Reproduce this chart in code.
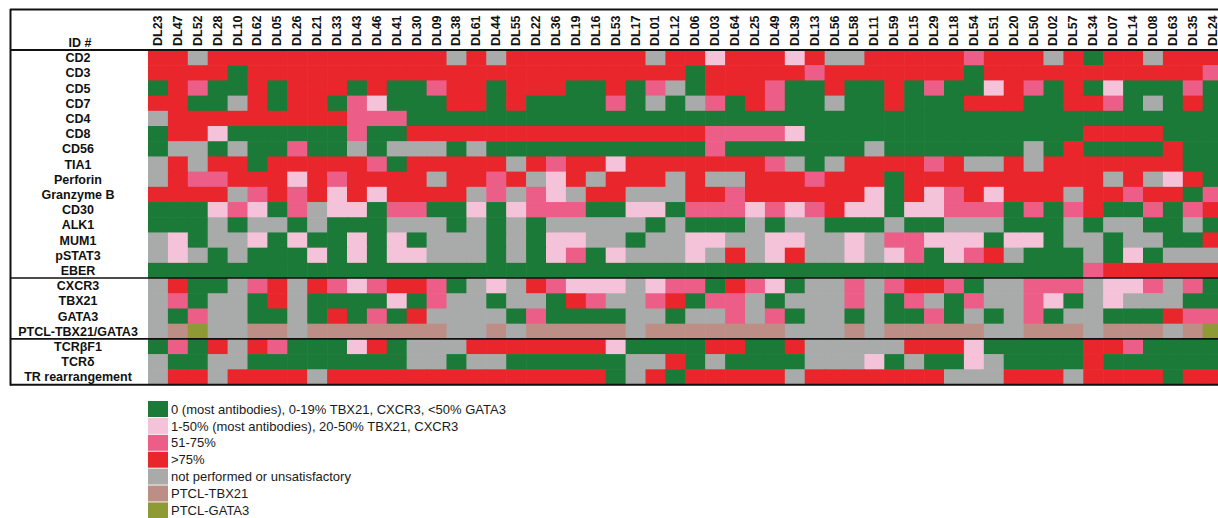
<!DOCTYPE html>
<html>
<head>
<meta charset="utf-8">
<script src="https://cdn.jsdelivr.net/npm/d3@7"></script>
<style>
  body { margin: 0; background: #fff; }
  svg { display: block; font-family: "Liberation Sans", Arial, sans-serif; }
</style>
</head>
<body>
<div id="chart"></div>
<script>
// -------- data ---------- //

var ids = [
  "DL23", "DL47", "DL52", "DL28", "DL10", "DL62", "DL05", "DL26", "DL21",
  "DL33", "DL43", "DL46", "DL41", "DL30", "DL09", "DL38", "DL61", "DL44",
  "DL55", "DL22", "DL36", "DL19", "DL16", "DL53", "DL17", "DL01", "DL12",
  "DL06", "DL03", "DL64", "DL25", "DL49", "DL39", "DL13", "DL56", "DL58",
  "DL11", "DL59", "DL15", "DL29", "DL18", "DL54", "DL51", "DL20", "DL50",
  "DL02", "DL57", "DL34", "DL07", "DL14", "DL08", "DL63", "DL35", "DL24",
];

var markers = [
  "CD2", "CD3", "CD5", "CD7", "CD4", "CD8", "CD56", "TIA1", "Perforin",
  "Granzyme B", "CD30", "ALK1", "MUM1", "pSTAT3", "EBER",
  "CXCR3", "TBX21", "GATA3", "PTCL-TBX21/GATA3",
  "TCRβF1", "TCRδ", "TR rearrangement",
];

// one string per marker, one letter per case (same order as ids)
// G = 0, L = 1-50%, P = 51-75%, R = >75%, N = not performed,
// T = PTCL-TBX21, A = PTCL-GATA3
var phenotype = [
  "RRNRRRRRRRRRR RRNRNRRRRRRRNR RLRRRLRNNRRRR RPRRRNRGRRNRRR",
  "RRRRGRRRRRRRR RRRRRRRRRRRRRR GRRRRRPRRRRRR RGRRRRRRRRRRRP",
  "GRPGGRGRRRGRG GPRRGRRRGGRGPN GRRRPGGRGGRGP GGLRPGRGLGGGPG",
  "RRGGNRGRRGPLG GGRRGRGGGGPGNG NPGRPGGNGGRGG GRRRGGRRPGNGRG",
  "NRRRRRRRRRPPP GGGGGGGGGGGGGG GGGGGGGGGGGGG GGGGGGGGGGGGGG",
  "GRRLGGGGGGPGG RRRRRRRRRRRRRR RPPPPLGGGGGGG GGGGGGGRRRRGGG",
  "GNNGNGGPGGNGN NNGNGGGGGGGGGG GPGGGGGGGNGGG GGGGNGRGGGGRGG",
  "NRNRRGRRRRRPG RRRRRNRPRRLRRR RRRRPNGNRRRRP RNNRNRRRRRRRGG",
  "NRPPRRRLRPRRR RNRRPRNLRNRRRN RNNRRRPRRRGRR RRRRRRRRNRNLRG",
  "RRRRNPRPRLRLR RRRNPNPLNRRNNN RRPRRRRRRLGRL PRLRRRNRRPRRGP",
  "GGGLPLGPNLLGP PGGLGLPPPGGLLG PPPLPLPRLLGLL PPPGPGPRGGPGPR",
  "GGGNGNNGNGGGN NNGNGNGNNNNNGN GGGNGNNGGGNGG NNNGGGNGNNGGNG",
  "NLGNNLGLGGLGL GNNNGNGLLNNGNN LLNNLLNNLNPPL LLGLLGNNGNNGGR",
  "NLNGNGGGLGLGL LNNNGNGLPGLNNN LNRNLRNNLNLPG LPRNGGGNGLGNNN",
  "GGGGGGGGGGGGG GGGGGGGGGGGGGG GGGGGGGGGGGGG GGGGGGGPRRRRRR",
];

var tbxGata = [
  "NRGGNPRNRPLPR RPGNLNRPLLLNLP PGRPLGNNPNPRR PGNNPPPNLLPNPG",
  "NPGNNGRNGGGGL GPNNGNNGRPNNPR GPPNGNNNPNGPN GPNNPLGNLNNNGG",
  "NGPNNGGNGRGPG RNNNNGPGGGGNNG NNPNPGNNGNGGP GNGNPGNNGGGRPP",
  "NTANNTTNTTTTT TTNNTNTTTTTNTT TTTTTNNNTNTTT TTNNTTTNTTTNTA",
];

var tcr = [
  "GPGRNRPGGGLRG NNNRRRRRRRLGGG GRRGGRNNNNNRR RLGGGGGRRPGGGG",
  "NGGNNGGGGGGGG NNGNNGGGGGGNNR GNGGGGNNNLGNG GLNGGGGRGGGGGG",
  "NRRNRRRRNRRRR RRRRRRRRRRGNRG RRRRRNRRRRRRR NNNRRRNRRRRGRR",
];

var categories = ["G", "L", "P", "R", "N", "T", "A"];
var categoryLabels = [
  "0 (most antibodies), 0-19% TBX21, CXCR3, <50% GATA3",
  "1-50% (most antibodies), 20-50% TBX21, CXCR3",
  "51-75%",
  ">75%",
  "not performed or unsatisfactory",
  "PTCL-TBX21",
  "PTCL-GATA3",
];

var color = d3
  .scaleOrdinal()
  .domain(categories)
  .range(["#1b7a37", "#f5c3d9", "#ec5e88", "#e9262c", "#a9aaaa", "#bc8e86", "#8e9a34"]);

// -------- heatmap ---------- //

var width = 1218;
var height = 518;

var svg = d3
  .select("#chart")
  .append("svg")
  .attr("width", width)
  .attr("height", height);

var x = d3
  .scaleBand()
  .domain(ids)
  .range([148, 148 + ids.length * 19.9]);

var y = d3
  .scaleBand()
  .domain(markers)
  .range([50, 384.5]);

var rows = phenotype.concat(tbxGata, tcr);
var cells = [];
rows.forEach(function(str, i) {
  var codes = str.replace(/ /g, "").split("");
  codes.forEach(function(c, j) {
    cells.push({ marker: markers[i], id: ids[j], code: c });
  });
});

svg
  .append("g")
  .selectAll("rect")
  .data(cells)
  .join("rect")
  .attr("x", (d) => x(d.id))
  .attr("y", (d) => y(d.marker))
  .attr("width", x.bandwidth() + 0.6)
  .attr("height", y.bandwidth() + 0.6)
  .attr("fill", (d) => color(d.code));

// column labels
svg
  .append("g")
  .selectAll("text")
  .data(ids)
  .join("text")
  .attr("transform", (d) => "translate(" + (x(d) + x.bandwidth() / 2 - 0.5) + ",46) rotate(-90)")
  .attr("dy", "0.36em")
  .style("font-size", "12.5px")
  .style("font-weight", "bold")
  .attr("fill", "#111")
  .text((d) => d);

svg
  .append("text")
  .attr("x", 80)
  .attr("y", 47)
  .attr("text-anchor", "middle")
  .style("font-size", "12.5px")
  .style("font-weight", "bold")
  .attr("fill", "#111")
  .text("ID #");

// row labels
svg
  .append("g")
  .selectAll("text")
  .data(markers)
  .join("text")
  .attr("x", 78)
  .attr("y", (d) => y(d) + y.bandwidth() / 2)
  .attr("dy", "0.36em")
  .attr("text-anchor", "middle")
  .style("font-size", "12.5px")
  .style("font-weight", "bold")
  .attr("fill", "#111")
  .text((d) => d);

// frame and block separators
var frame = svg.append("g").attr("stroke", "#111");
frame.append("line").attr("x1", 10).attr("x2", width).attr("y1", 9.5).attr("y2", 9.5).attr("stroke-width", 2);
frame.append("line").attr("x1", 10.5).attr("x2", 10.5).attr("y1", 9).attr("y2", 385.5).attr("stroke-width", 2);
frame.append("line").attr("x1", 10).attr("x2", width).attr("y1", 50).attr("y2", 50).attr("stroke-width", 2.2);
[y("CXCR3"), y("TCRβF1")].forEach(function(yy) {
  frame.append("line").attr("x1", 10).attr("x2", width).attr("y1", yy).attr("y2", yy).attr("stroke-width", 1.6);
});
frame.append("line").attr("x1", 10).attr("x2", width).attr("y1", 384.8).attr("y2", 384.8).attr("stroke-width", 2);

// -------- legend ---------- //
var legend = svg
  .append("g")
  .attr("transform", "translate(148,401)");

var item = legend
  .selectAll("g")
  .data(categories)
  .join("g")
  .attr("transform", (d, i) => "translate(0," + i * 16.9 + ")");

item
  .append("rect")
  .attr("width", 20)
  .attr("height", 16)
  .attr("fill", (d) => color(d));

item
  .append("text")
  .attr("x", 23)
  .attr("y", 8)
  .attr("dy", "0.36em")
  .style("font-size", "13px")
  .attr("fill", "#1a1a1a")
  .text((d, i) => categoryLabels[i]);
</script>
</body>
</html>
